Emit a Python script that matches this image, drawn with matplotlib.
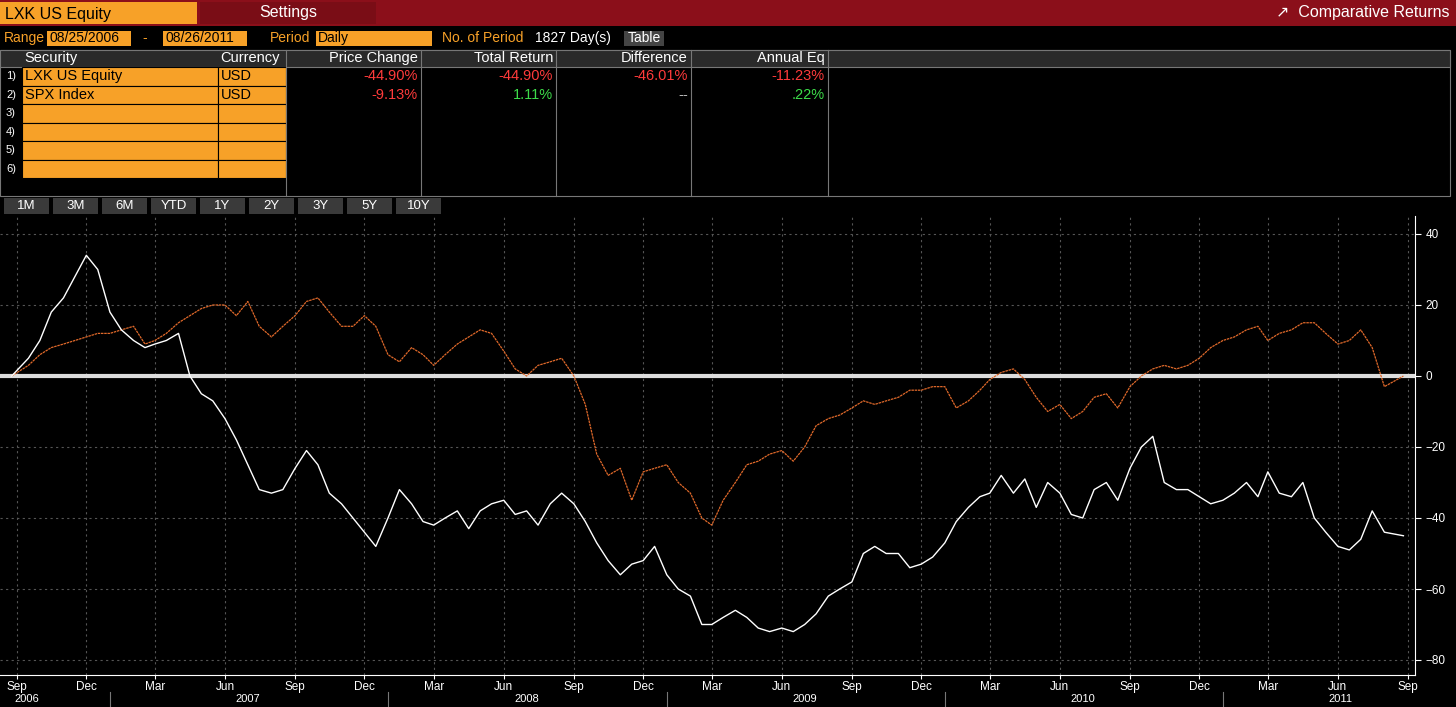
import matplotlib
matplotlib.use("Agg")
import matplotlib.pyplot as plt
import matplotlib.dates as mdates
from matplotlib.patches import Rectangle
import datetime as dt

W, H = 1456, 707
months = ["Sep06","Oct06","Nov06","Dec06","Jan07","Feb07","Mar07","Apr07","May07","Jun07","Jul07","Aug07",
          "Sep07","Oct07","Nov07","Dec07","Jan08","Feb08","Mar08","Apr08","May08","Jun08","Jul08","Aug08",
          "Sep08","Oct08","Nov08","Dec08","Jan09","Feb09","Mar09","Apr09","May09","Jun09","Jul09","Aug09",
          "Sep09","Oct09","Nov09","Dec09","Jan10","Feb10","Mar10","Apr10","May10","Jun10","Jul10","Aug10",
          "Sep10","Oct10","Nov10","Dec10","Jan11","Feb11","Mar11","Apr11","May11","Jun11","Jul11","Aug11"]
lxk = [0,5, 10,18, 22,28, 34,30, 18,13, 10,8, 9,10, 12,0, -5,-7, -12,-18, -25,-32, -33,-32,
       -26,-21, -25,-33, -36,-40, -44,-48, -40,-32, -36,-41, -42,-40, -38,-43, -38,-36, -35,-39, -38,-42, -36,-33,
       -36,-41, -47,-52, -56,-53, -52,-48, -56,-60, -62,-70, -70,-68, -66,-68, -71,-72, -71,-72, -70,-67, -62,-60,
       -58,-50, -48,-50, -50,-54, -53,-51, -47,-41, -37,-34, -33,-28, -33,-29, -37,-30, -33,-39, -40,-32, -30,-35,
       -26,-20, -17,-30, -32,-32, -34,-36, -35,-33, -30,-34, -27,-33, -34,-30, -40,-44, -48,-49, -46,-38, -44,-45]
spx = [0,3, 6,8, 9,10, 11,12, 12,13, 14,9, 10,12, 15,17, 19,20, 20,17, 21,14, 11,14,
       17,21, 22,18, 14,14, 17,14, 6,4, 8,6, 3,6, 9,11, 13,12, 7,2, 0,3, 4,5,
       0,-8, -22,-28, -26,-35, -27,-26, -25,-30, -33,-40, -42,-35, -30,-25, -24,-22, -21,-24, -20,-14, -12,-11,
       -9,-7, -8,-7, -6,-4, -4,-3, -3,-9, -7,-4, -1,1, 2,-1, -6,-10, -8,-12, -10,-6, -5,-9,
       -3,0, 2,3, 2,3, 5,8, 10,11, 13,14, 10,12, 13,15, 15,12, 9,10, 13,8, -3,0]

dates = []
for m in months:
    d = dt.datetime.strptime(m, "%b%y")
    dates += [d.replace(day=1), d.replace(day=16)]
dates[0] = dt.datetime(2006, 8, 25)
dates[-1] = dt.datetime(2011, 8, 26)

FAM = ["Liberation Sans", "DejaVu Sans"]
plt.rcParams["font.family"] = FAM
fig = plt.figure(figsize=(W/100, H/100), dpi=100, facecolor="black")
ov = fig.add_axes([0, 0, 1, 1]); ov.set_xlim(0, W); ov.set_ylim(H, 0); ov.axis("off")

def rect(x, y, w, h, fc, ec="none", lw=0.8):
    ov.add_patch(Rectangle((x, y), w, h, facecolor=fc, edgecolor=ec, lw=lw))
def txt(x, y, s, c="white", size=10, ha="left", **kw):
    ov.text(x, y, s, color=c, fontsize=size, ha=ha, va="center", family=FAM, **kw)

ORG = "#f7a128"; RED = "#8b0f1a"
rect(0, 0, W, 26, RED)
rect(0, 2, 197, 22, ORG); txt(5, 14, "LXK US Equity", "black", 11.5)
rect(200, 2, 176, 22, "#7a0d16"); txt(288, 13, "Settings", "white", 11.5, ha="center")
txt(1450, 13, "\u2197  Comparative Returns", "white", 11.5, ha="right")
txt(4, 38, "Range", ORG, 10)
rect(47, 31, 84, 15, ORG); txt(49, 38, "08/25/2006", "black", 10)
txt(142, 38, "-", ORG, 10)
rect(163, 31, 84, 15, ORG); txt(165, 38, "08/26/2011", "black", 10)
txt(270, 38, "Period", ORG, 10)
rect(316, 31, 116, 15, ORG); txt(318, 38, "Daily", "black", 10)
txt(442, 38, "No. of Period", ORG, 10); txt(535, 38, "1827 Day(s)", "white", 10)
rect(624, 31, 40, 15, "#444444"); txt(644, 38, "Table", "white", 10, ha="center")
rect(0, 50, 1450, 146, "black", "#777777")
cols = [0, 22, 218, 286, 421, 556, 691, 828]
heads = ["", "Security", "Currency", "Price Change", "Total Return", "Difference", "Annual Eq"]
rect(0, 50, 1450, 17, "#2a2a2a", "#777777")
for i, hname in enumerate(heads):
    if i <= 2:
        txt(cols[i] + 2, 58, hname, "white", 10.5)
    else:
        txt(cols[i+1] - 3, 58, hname, "white", 10.5, ha="right")
for c in cols[3:]:
    ov.plot([c, c], [50, 196], color="#777777", lw=0.8)
rowy = [67, 85.5, 104, 122.5, 141, 159.5, 178]
secs = ["LXK US Equity", "SPX Index", "", "", "", ""]
curs = ["USD", "USD", "", "", "", ""]
for r in range(6):
    y0, y1 = rowy[r], rowy[r+1]; ym = (y0 + y1) / 2
    rect(22, y0, 196, y1 - y0, ORG, "black"); rect(218, y0, 68, y1 - y0, ORG, "black")
    txt(11, ym, f"{r+1})", "white", 8, ha="center")
    txt(25, ym, secs[r], "black", 10.5); txt(221, ym, curs[r], "black", 10.5)
G = "#3ddc4a"; R = "#ff3b3b"
vals = [[("-44.90%", R), ("-44.90%", R), ("-46.01%", R), ("-11.23%", R)],
        [("-9.13%", R), ("1.11%", G), ("--", "#bbbbbb"), (".22%", G)]]
for r, row in enumerate(vals):
    ym = (rowy[r] + rowy[r+1]) / 2
    for j, (s, c) in enumerate(row):
        txt(cols[j+4] - 3, ym, s, c, 10.5, ha="right")
for i, b in enumerate(["1M", "3M", "6M", "YTD", "1Y", "2Y", "3Y", "5Y", "10Y"]):
    x = 4 + i * 49
    rect(x, 198, 45, 16, "#3a3a3a"); txt(x + 22.5, 206, b, "white", 9.5, ha="center")
for x, s in [(633, "\u271b Track"), (693, "\u2215 Annotate"), (765, "\u2315 Zoom")]:
    txt(x, 225, s, "#cccccc", 9)

top, bot, rgt = 216, 675, 1415
ax = fig.add_axes([0, (H - bot) / H, rgt / W, (bot - top) / H], facecolor="black")
px_day = 1391 / (dt.datetime(2011, 9, 1) - dt.datetime(2006, 9, 1)).days
x0 = dt.datetime(2006, 9, 1) - dt.timedelta(days=17 / px_day)
x1 = dt.datetime(2011, 9, 1) + dt.timedelta(days=(rgt - 1408) / px_day)
ax.set_xlim(x0, x1)
ax.set_ylim(-(bot - 376) / 3.55, (376 - top) / 3.55)
ax.set_axisbelow(True)
ax.axhline(0, color="#dddddd", lw=3, zorder=1.5)
ax.plot(dates, spx, color="#e0692a", lw=0.9, ls=(0, (2, 0.6)), zorder=2)
ax.plot(dates, lxk, color="white", lw=1.0, zorder=3)
ax.yaxis.tick_right()
ax.set_yticks([40, 20, 0, -20, -40, -60, -80])
ax.tick_params(axis="y", colors="white", labelsize=8.5, length=4, direction="out")
ax.xaxis.set_major_locator(mdates.MonthLocator(bymonth=[3, 6, 9, 12]))
ax.xaxis.set_major_formatter(mdates.DateFormatter("%b"))
ax.tick_params(axis="x", colors="white", labelsize=8.5, length=3, pad=1)
ax.grid(True, color="#555555", ls=(0, (2, 3)), lw=0.8)
for s in ["top", "left"]:
    ax.spines[s].set_visible(False)
ax.spines["right"].set_color("white"); ax.spines["bottom"].set_color("white")
fig.canvas.draw()
for yr in range(2006, 2012):
    xm = ax.transData.transform((mdates.date2num(dt.datetime(yr, 7, 1)), 0))[0]
    xm = max(27, min(xm, 1340))
    txt(xm, 699, str(yr), "white", 8, ha="center")
    if yr > 2006:
        xs = ax.transData.transform((mdates.date2num(dt.datetime(yr, 1, 1)), 0))[0]
        ov.plot([xs, xs], [692, 707], color="#777777", lw=0.8)
rect(1238, 224, 172, 34, "black")
rect(1243, 229, 9, 9, "white"); txt(1256, 234, "Lexmark International Inc", "white", 8)
rect(1243, 243, 9, 9, "black", "#e0692a"); txt(1256, 248, "S&P 500 INDEX", "white", 8)
fig.savefig("out.png", dpi=100, facecolor="black")
